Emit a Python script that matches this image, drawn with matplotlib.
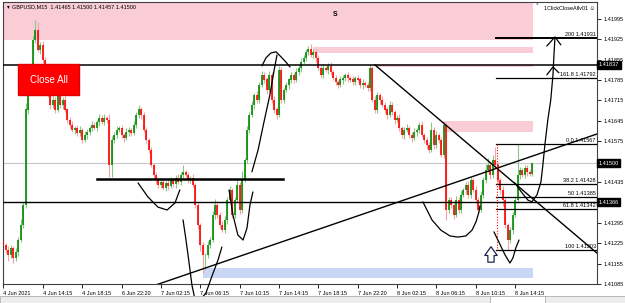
import matplotlib.pyplot as plt
from matplotlib.patches import Rectangle, FancyArrowPatch
from matplotlib.transforms import blended_transform_factory
import numpy as np

plt.rcParams['font.family'] = ['Liberation Sans', 'DejaVu Sans']

BASE = 1.41
POINT = 0.00001

# GBPUSD M15 closes, in points above 1.41000
close_pts = [219, 202, 185, 209, 174, 195, 236, 288, 356, 683, 751, 820, 923, 957, 889, 906,
             854, 786, 734, 700, 717, 683, 734, 700, 717, 683, 648, 631, 614, 621, 604, 614,
             580, 597, 607, 621, 631, 621, 641, 655, 641, 655, 648, 494, 580, 597, 614, 621,
             597, 586, 607, 614, 604, 631, 665, 683, 665, 614, 580, 545, 494, 459, 442, 425,
             435, 415, 432, 422, 442, 428, 449, 435, 459, 470, 459, 442, 449, 425, 356, 288,
             219, 185, 185, 219, 236, 322, 356, 322, 288, 270, 305, 373, 408, 322, 373, 425,
             339, 442, 511, 614, 665, 700, 734, 717, 768, 803, 786, 751, 803, 717, 683, 665,
             820, 717, 751, 768, 786, 803, 786, 813, 827, 847, 861, 882, 889, 871, 882, 861,
             827, 803, 827, 820, 834, 813, 792, 779, 768, 786, 792, 803, 792, 786, 779, 792,
             786, 768, 775, 768, 758, 827, 717, 683, 734, 717, 700, 683, 665, 700, 676, 648,
             655, 621, 597, 614, 621, 597, 586, 607, 614, 631, 597, 580, 562, 545, 614, 562,
             597, 580, 528, 631, 339, 373, 356, 322, 373, 339, 391, 408, 425, 391, 442, 408,
             373, 339, 391, 442, 476, 494, 459, 511, 494, 442, 408, 373, 288, 236, 270, 322,
             373, 459, 476, 459, 483, 470, 465, 500]
first_open_pts = 230

wick_up = [12, 8, 15, 10, 6, 14, 10, 20, 12, 25, 18, 20, 15, 35, 28, 10,
           12, 10, 18, 8, 14, 10, 12, 8, 10, 14, 6, 10, 12, 8, 10, 15,
           8, 12, 10, 6, 14, 10, 8, 12, 10, 15, 8, 20, 12, 10, 14, 8,
           10, 6, 12, 10, 8, 14, 10, 18, 8, 12, 10, 6, 10, 8, 12, 10,
           8, 10, 6, 12, 10, 8, 10, 14, 10, 25, 8, 10, 6, 12, 8, 10,
           6, 10, 8, 12, 10, 14, 20, 8, 10, 12, 15, 10, 12, 8, 10, 18,
           10, 30, 8, 12, 10, 14, 8, 15, 10, 12, 10, 8, 14, 10, 12, 8,
           15, 10, 8, 12, 6, 10, 8, 12, 10, 14, 10, 8, 12, 20, 10, 8,
           10, 6, 12, 8, 10, 14, 8, 10, 6, 12, 10, 8, 10, 6, 12, 8,
           10, 8, 12, 6, 10, 10, 8, 14, 10, 8, 12, 10, 8, 14, 10, 6,
           10, 12, 8, 10, 14, 8, 10, 12, 6, 10, 14, 8, 10, 12, 27, 10,
           12, 8, 10, 10, 8, 12, 10, 6, 14, 10, 12, 8, 10, 14, 10, 8,
           12, 10, 14, 10, 20, 24, 10, 18, 45, 10, 8, 12, 10, 8, 12, 10,
           14, 108, 10, 8, 12, 10, 8, 0]
wick_dn = [15, 10, 20, 12, 18, 10, 14, 8, 12, 10, 14, 8, 10, 12, 8, 14,
           10, 12, 8, 14, 10, 12, 8, 10, 14, 8, 12, 10, 8, 14, 10, 12,
           10, 8, 14, 10, 12, 8, 10, 14, 8, 10, 12, 42, 42, 10, 12, 8,
           10, 12, 8, 14, 10, 8, 12, 10, 14, 8, 10, 12, 8, 10, 14, 10,
           12, 8, 10, 14, 8, 10, 12, 8, 10, 14, 8, 10, 12, 8, 10, 14,
           20, 63, 50, 12, 10, 8, 14, 10, 12, 8, 10, 14, 8, 12, 10, 8,
           14, 10, 8, 12, 10, 8, 14, 10, 12, 8, 10, 14, 8, 12, 10, 15,
           8, 12, 10, 8, 14, 10, 12, 8, 10, 14, 8, 10, 12, 8, 10, 14,
           8, 10, 12, 8, 14, 10, 8, 12, 10, 8, 14, 10, 12, 8, 10, 12,
           8, 10, 14, 8, 12, 10, 8, 12, 10, 14, 8, 10, 12, 8, 10, 14,
           8, 12, 10, 14, 8, 10, 12, 8, 14, 10, 8, 12, 15, 10, 8, 14,
           10, 12, 8, 10, 34, 12, 10, 14, 8, 12, 10, 8, 14, 10, 12, 8,
           10, 14, 8, 12, 10, 8, 14, 10, 12, 10, 14, 20, 12, 33, 10, 12,
           8, 10, 12, 8, 10, 14, 10, 8]

time_labels = ["4 Jun 2021", "4 Jun 14:15", "4 Jun 18:15", "6 Jun 22:20", "7 Jun 02:15",
               "7 Jun 06:15", "7 Jun 10:15", "7 Jun 14:15", "7 Jun 18:15", "7 Jun 22:20",
               "8 Jun 02:15", "8 Jun 06:15", "8 Jun 10:15", "8 Jun 14:15"]
time_label_bars = [0, 16, 32, 48, 64, 80, 96, 112, 128, 144, 160, 176, 192, 208]

price_ticks = [1.41995, 1.41925, 1.41855, 1.41785, 1.41715, 1.41645, 1.41575,
               1.41435, 1.41295, 1.41225, 1.41155, 1.41085]
marked_prices = [1.41837, 1.41500, 1.41366]

fib_names = ["200", "161.8", "0.0", "38.2", "50", "61.8", "100"]
fib_prices = [1.41931, 1.41792, 1.41567, 1.41428, 1.41385, 1.41342, 1.41203]
fib_bars = [200.2, 241.3]

# supply / demand boxes: (bar_from, bar_to, price_lo, price_hi)
pink_zones = [(-0.2, 215.3, 1.41923, 1.42070),
              (125.8, 215.3, 1.41878, 1.41897),
              (151.4, 215.3, 1.41829, 1.41839),
              (178.7, 215.3, 1.41607, 1.41645)]
blue_zones = [(81.1, 215.3, 1.41106, 1.41140)]

down_trend = ([151.0, 241.3], [1.41837, 1.41191])
up_trend = ([62.4, 241.3], [1.41083, 1.41600])
support_bars = [38, 113.6]
support_price = 1.41446

# freehand strokes (bar, points above 1.41)
strokes = [
    ([54.7, 58.7, 62.8, 66.5, 69.7, 71.7], [432, 384, 349, 339, 363, 408]),
    ([73.0, 74.2, 75.4, 76.6, 77.8, 79.9, 82.3, 84.8, 87.2, 88.8],
     [305, 236, 161, 82, 34, 30, 54, 113, 167, 212]),
    ([91.7, 93.3, 95.3, 97.4, 99.0, 100.2, 101.4], [408, 322, 253, 236, 277, 356, 401]),
    ([101.0, 103.5, 105.9, 108.3, 109.9, 111.2], [470, 545, 641, 734, 813, 871]),
    ([105.1, 106.7, 108.7, 110.8, 112.8, 114.8, 116.5], [834, 861, 878, 882, 865, 847, 830]),
    ([170.5, 174.2, 177.8, 181.5, 184.7, 188.0, 190.5, 192.1, 193.3, 193.7],
     [367, 305, 270, 250, 246, 250, 270, 298, 332, 353]),
    ([207.9, 210.8, 213.2, 214.8, 216.9, 218.5, 219.3, 220.1, 221.3, 222.5, 223.4, 223.8, 224.2],
     [432, 398, 373, 367, 391, 435, 494, 562, 648, 717, 803, 871, 930]),
    ([220.9, 224.2, 226.6], [902, 933, 906]),
    ([220.9, 223.4, 225.8], [803, 830, 810]),
    ([199.4, 201.8, 203.9, 205.9, 207.1, 208.3, 209.6], [264, 222, 185, 157, 174, 209, 236]),
]
buy_arrow_bar = 198.2
buy_arrow_prices = [1.41160, 1.41213]

W, H = 625, 303
fig = plt.figure(figsize=(W / 100, H / 100), dpi=100, facecolor="white")
ax = fig.add_axes([3 / W, 19 / H, 594 / W, 282 / H])
ax.set_xlim(-0.2, 241.3)
ax.set_ylim(1.41085, 1.42053)

# zones
for x0, x1, p0, p1 in pink_zones:
    ax.add_patch(Rectangle((x0, p0), x1 - x0, p1 - p0, color="#FACDD6", lw=0, zorder=0))
for x0, x1, p0, p1 in blue_zones:
    ax.add_patch(Rectangle((x0, p0), x1 - x0, p1 - p0, color="#C9D6F4", lw=0, zorder=0))

# current price line
ax.axhline(1.41500, color="#C8C8C8", lw=0.8, zorder=1)

# candles
closes = BASE + np.array(close_pts) * POINT
opens = np.r_[BASE + first_open_pts * POINT, closes[:-1]]
highs = np.maximum(opens, closes) + np.array(wick_up) * POINT
lows = np.minimum(opens, closes) - np.array(wick_dn) * POINT
bars = np.arange(len(closes))
up = closes >= opens
body_lo = np.minimum(opens, closes) - POINT
body_hi = np.maximum(opens, closes) + POINT

ax.vlines(bars[up], lows[up], highs[up], color="#86C886", lw=0.8, zorder=2)
ax.vlines(bars[~up], lows[~up], highs[~up], color="#F6A3A3", lw=0.8, zorder=2)
ax.vlines(bars[up], body_lo[up], body_hi[up], color="#058A05", lw=1.2, zorder=3)
ax.vlines(bars[~up], body_lo[~up], body_hi[~up], color="#FF0000", lw=1.2, zorder=3)

# horizontal levels
ax.axhline(marked_prices[0], color="black", lw=1.1, zorder=4)
ax.axhline(marked_prices[2], color="black", lw=1.0, zorder=4)
ax.plot(support_bars, [support_price, support_price], color="black", lw=1.8, zorder=4)

# trendlines
ax.plot(*down_trend, color="black", lw=1.0, zorder=4)
ax.plot(*up_trend, color="black", lw=1.0, zorder=4)

# fibonacci
for name, p in zip(fib_names, fib_prices):
    ax.plot(fib_bars, [p, p], color="black", lw=1.4 if name == "200" else 0.9, zorder=4)
    ax.text(240.8, p + 3 * POINT, f"{name} {p:.5f}", fontsize=4, ha="right", va="bottom", zorder=5)
ax.plot([200.6, 200.6], [fib_prices[2], fib_prices[6]], color="red", lw=0.8, ls=(0, (1, 1.5)), zorder=4)

# freehand drawings
for xs, ps in strokes:
    ax.plot(xs, BASE + np.array(ps) * POINT, color="black", lw=0.9, zorder=5, clip_on=False,
            solid_capstyle="round")

# hollow buy arrow
ax.add_patch(FancyArrowPatch((buy_arrow_bar, buy_arrow_prices[0]), (buy_arrow_bar, buy_arrow_prices[1]),
                             arrowstyle="simple,head_length=0.7,head_width=1.0,tail_width=0.5",
                             mutation_scale=9, shrinkA=0, shrinkB=0,
                             fc="white", ec="#1B2550", lw=0.9, zorder=6))

# axes styling
ax.yaxis.tick_right()
ax.set_yticks(price_ticks)
ax.set_yticklabels([f"{p:.5f}" for p in price_ticks])
ax.set_xticks(time_label_bars)
ax.set_xticklabels(time_labels, ha="left")
ax.tick_params(axis="y", length=3, width=0.6, labelsize=4, pad=1.5)
ax.tick_params(axis="x", length=3, width=0.6, labelsize=4, pad=2)
for s in ax.spines.values():
    s.set_color("#404040")
    s.set_linewidth(0.8)

trans = blended_transform_factory(ax.transAxes, ax.transData)
for p in marked_prices:
    ax.text(1.003, p, f"{p:.5f}", transform=trans, fontsize=4, color="white", va="center",
            ha="left", bbox=dict(boxstyle="square,pad=0.25", fc="black", ec="black"), clip_on=False)

# header texts
fig.text(7 / W, 1 - 7 / H, "\u25be", fontsize=4, va="center")
fig.text(12 / W, 1 - 7 / H, "GBPUSD,M15  1.41465 1.41500 1.41457 1.41500", fontsize=4, va="center")
fig.text(335 / W, 1 - 15 / H, "S", fontsize=5, fontweight="bold", ha="center", va="center")
fig.text(537 / W, 1 - 4 / H, "\u25be", fontsize=4, color="#A0A0A0", ha="center", va="center")
fig.text(595 / W, 1 - 8 / H, "1ClickCloseAllv01 \u263a", fontsize=4, ha="right", va="center")

# Close All button
fig.patches.append(Rectangle((18 / W, 1 - 95 / H), 61 / W, 31 / H, transform=fig.transFigure,
                             fc="#FF0000", ec="#E00000", zorder=10))
fig.text(48.5 / W, 1 - 80 / H, "Close All", fontsize=7, color="white", ha="center", va="center", zorder=11)

# bottom tab strip
fig.patches.append(Rectangle((0, 0), 1, 7 / H, transform=fig.transFigure, fc="#EDEDED",
                             ec="#B0B0B0", lw=0.6, zorder=0))
fig.patches.append(Rectangle((490 / W, 0), 55 / W, 7 / H, transform=fig.transFigure, fc="white",
                             ec="#B0B0B0", lw=0.6, zorder=1))

fig.savefig("out.png", dpi=100, facecolor="white")
